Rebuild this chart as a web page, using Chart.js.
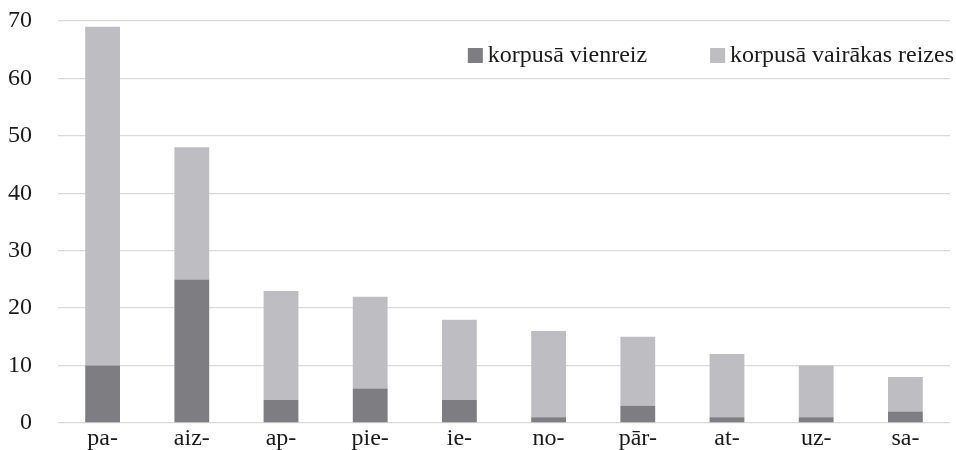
<!DOCTYPE html>
<html>
<head>
<meta charset="utf-8">
<script src="https://cdn.jsdelivr.net/npm/chart.js@4"></script>
<style>
  html, body { margin: 0; padding: 0; background: #fff; }
  #wrap { width: 956px; height: 450px; }
</style>
</head>
<body>
<div id="wrap"><canvas id="grafiks" width="956" height="450"></canvas></div>
<script>
    const kategorijas = ['pa-', 'aiz-', 'ap-', 'pie-', 'ie-', 'no-', 'pār-', 'at-', 'uz-', 'sa-'];
    const vienreiz = [10, 25, 4, 6, 4, 1, 3, 1, 1, 2];
    const vairakasReizes = [59, 23, 19, 16, 14, 15, 12, 11, 9, 6];
    const asuAtzimes = [0, 10, 20, 30, 40, 50, 60, 70];

    const fonts = '"Liberation Serif", "Times New Roman", Times, serif';

    // legenda iekš zīmēšanas laukuma, augšējā labajā stūrī
    const legendaPlugin = {
        id: 'legendaIeksa',
        afterDraw(chart) {
            const ctx = chart.ctx;
            const items = chart.data.datasets;
            ctx.save();
            ctx.font = '24px ' + fonts;
            ctx.textBaseline = 'middle';
            const kaste = 15, atstarpe = 5, starp = 63;
            let kopa = 0;
            items.forEach((d, i) => {
                kopa += kaste + atstarpe + ctx.measureText(d.label).width;
                if (i < items.length - 1) kopa += starp;
            });
            let x = chart.width - 2 - kopa;
            const y = 55.5;
            items.forEach(d => {
                ctx.fillStyle = d.backgroundColor;
                ctx.fillRect(x, y - kaste / 2, kaste, kaste);
                x += kaste + atstarpe;
                ctx.fillStyle = '#1a1a1a';
                ctx.fillText(d.label, x, y);
                x += ctx.measureText(d.label).width + starp;
            });
            ctx.restore();
        }
    };

    function zimetGrafiku() {
        new Chart(document.getElementById('grafiks'), {
            type: 'bar',
            data: {
                labels: kategorijas,
                datasets: [{
                    label: 'korpusā vienreiz',
                    data: vienreiz,
                    backgroundColor: '#7e7e82',
                    barPercentage: 0.39,
                    categoryPercentage: 1
                }, {
                    label: 'korpusā vairākas reizes',
                    data: vairakasReizes,
                    backgroundColor: '#bebec2',
                    barPercentage: 0.39,
                    categoryPercentage: 1
                }]
            },
            options: {
                responsive: false,
                animation: false,
                layout: { padding: { left: 8, right: 6, top: 21, bottom: 0 } },
                plugins: {
                    legend: { display: false },
                    tooltip: { enabled: false }
                },
                scales: {
                    x: {
                        stacked: true,
                        afterFit: s => { s.height = 27; },
                        grid: { display: false, drawTicks: false },
                        border: { display: false },
                        ticks: {
                            color: '#1a1a1a',
                            padding: 1,
                            font: { family: fonts, size: 24 }
                        }
                    },
                    y: {
                        stacked: true,
                        min: 0,
                        max: 70,
                        afterFit: s => {
                            s.width = 50;
                            s.paddingTop = 0;
                            s.paddingBottom = 0;
                        },
                        afterBuildTicks: axis => {
                            axis.ticks = asuAtzimes.map(v => ({ value: v }));
                        },
                        grid: { color: '#d9d9d9', lineWidth: 1.3, drawTicks: false },
                        border: { display: false },
                        ticks: {
                            color: '#1a1a1a',
                            padding: 26,
                            font: { family: fonts, size: 24 }
                        }
                    }
                }
            },
            plugins: [legendaPlugin]
        });
    }

    document.fonts.load('24px "Liberation Serif"').then(zimetGrafiku, zimetGrafiku);
</script>
</body>
</html>
